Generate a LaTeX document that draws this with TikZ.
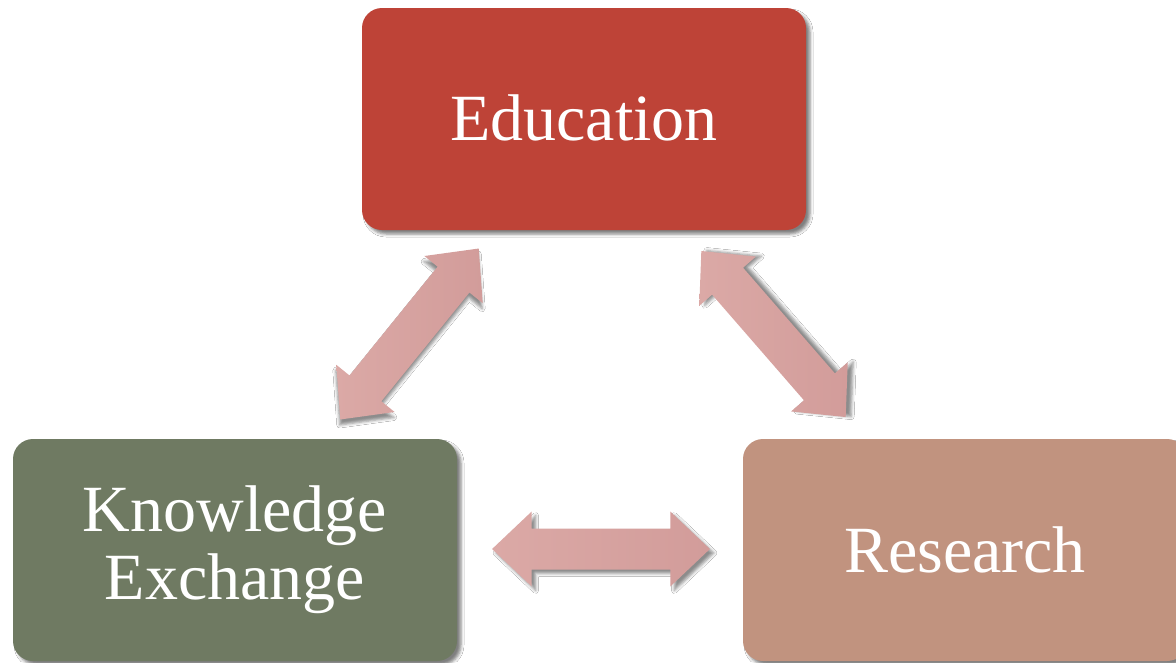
\documentclass[tikz,border=0pt]{standalone}
\usepackage{fontspec}
\setmainfont{Liberation Serif}
\usetikzlibrary{shadows.blur}
\definecolor{edu}{HTML}{BE4337}
\definecolor{kex}{HTML}{6F7A62}
\definecolor{res}{HTML}{C1937F}
\definecolor{arrL}{HTML}{DBA9A6}
\definecolor{arrR}{HTML}{D29C9A}
\tikzset{
  box/.style={rounded corners=20pt, minimum width=444pt, minimum height=222pt,
    inner sep=0pt, text=white, font=\fontsize{66}{68}\selectfont, align=center,
    blur shadow={shadow xshift=4pt, shadow yshift=-4pt, shadow blur radius=3pt, shadow opacity=50}},
  blockarrow/.style={left color=arrL, right color=arrR},
}
\newcommand{\arrowpath}{(-110,0) -- (-70,37.5) -- (-70,20.5) -- (70,20.5) -- (70,37.5) -- (110,0) -- (70,-37.5) -- (70,-20.5) -- (-70,-20.5) -- (-70,-37.5) -- cycle}
\begin{document}
\begin{tikzpicture}[x=1pt,y=-1pt]
\useasboundingbox (0,0) rectangle (1176,662);
\fill[white] (0,0) rectangle (1176,662);
\node[box, fill=edu] (edu) at (584,119) {\raisebox{3pt}{Education}};
\node[box, fill=kex] (kex) at (235,550) {Knowledge\\Exchange};
\node[box, fill=res] (res) at (965,550) {Research};
\coordinate (a1) at (409.5,334);
\coordinate (a2) at (773.5,334);
\coordinate (a3) at (601,549);
\begin{scope}[shift={(a1)}, rotate=51]
  \path[blockarrow, blur shadow={shadow xshift=-0.5pt, shadow yshift=-5.5pt, shadow blur radius=3pt, shadow opacity=45}] \arrowpath;
\end{scope}
\begin{scope}[shift={(a2)}, rotate=-49]
  \path[blockarrow, blur shadow={shadow xshift=5.5pt, shadow yshift=0.4pt, shadow blur radius=3pt, shadow opacity=45}] \arrowpath;
\end{scope}
\begin{scope}[shift={(a3)}, xscale=0.99]
  \path[blockarrow, blur shadow={shadow xshift=4pt, shadow yshift=-4pt, shadow blur radius=3pt, shadow opacity=45}] \arrowpath;
\end{scope}
\end{tikzpicture}
\end{document}
